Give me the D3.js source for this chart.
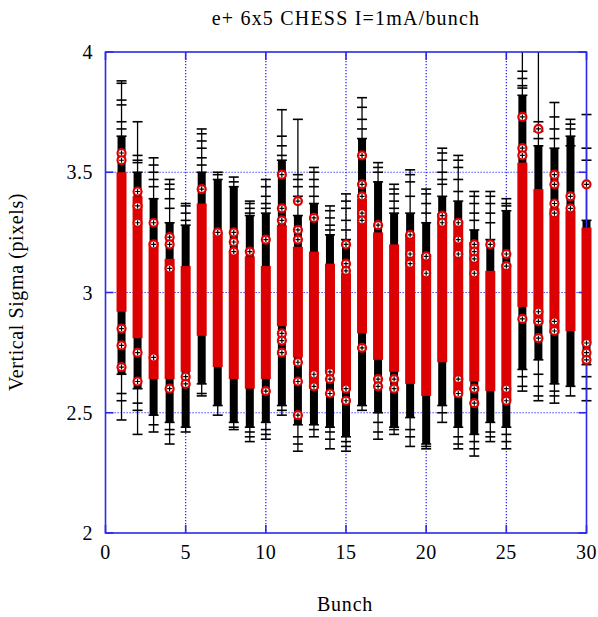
<!DOCTYPE html>
<html>
<head>
<meta charset="utf-8">
<script src="https://cdn.jsdelivr.net/npm/d3@7"></script>
<style>
  body { margin: 0; background: #fff; }
  svg { display: block; }
</style>
</head>
<body>
<svg id="chart" width="598" height="617"></svg>
<script>
// bunch numbers along the x axis
const bunches = [1,2,3,4,5,6,7,8,9,10,11,12,13,14,15,16,17,18,19,20,21,22,23,24,25,26,27,28,29,30];

// extent of the error bars (whisker ends) per bunch
const errHi = [3.88,3.71,3.56,3.47,3.37,3.68,3.50,3.48,3.38,3.47,3.76,3.72,3.52,3.36,3.41,3.81,3.54,3.45,3.51,3.43,3.60,3.57,3.42,3.42,3.39,4.10,4.10,3.79,3.72,3.74];
const errLo = [2.47,2.41,2.42,2.37,2.42,2.57,2.49,2.43,2.38,2.39,2.49,2.34,2.40,2.35,2.34,2.51,2.39,2.41,2.36,2.35,2.46,2.35,2.32,2.38,2.35,2.59,2.55,2.54,2.57,2.55];

// dense band of black measurements
const blackHi = [3.65,3.50,3.39,3.29,3.28,3.50,3.47,3.44,3.32,3.33,3.55,3.32,3.37,3.24,3.22,3.64,3.46,3.33,3.33,3.29,3.40,3.38,3.26,3.22,3.34,3.82,3.61,3.60,3.65,3.30];
const blackLo = [2.66,2.60,2.49,2.46,2.44,2.62,2.53,2.46,2.44,2.46,2.53,2.45,2.45,2.44,2.40,2.53,2.50,2.44,2.48,2.37,2.53,2.44,2.41,2.46,2.44,2.68,2.72,2.62,2.61,2.70];

// dense band of red points
const redHi = [3.50,3.40,3.21,3.14,3.11,3.37,3.25,3.17,3.15,3.11,3.28,3.19,3.17,3.12,3.08,3.39,3.25,3.20,3.24,3.16,3.33,3.30,3.21,3.09,3.12,3.54,3.43,3.35,3.34,3.27];
const redLo = [2.92,2.81,2.64,2.64,2.67,2.82,2.69,2.64,2.60,2.64,2.86,2.73,2.60,2.67,2.60,2.83,2.72,2.67,2.62,2.57,2.71,2.58,2.63,2.59,2.55,2.94,2.87,2.83,2.84,2.79];

// isolated red circles
const redCircles = [
  [3.58,3.55,2.85,2.78,2.69],
  [3.42,3.36,3.29,2.75,2.63],
  [3.29,3.20,2.73],
  [3.23,3.20,3.10,2.60],
  [2.65,2.62],
  [3.43],
  [3.25],
  [3.25,3.21,3.17],
  [3.17],
  [3.22,2.59],
  [3.49,3.35,3.30,2.83,2.80,2.75],
  [3.38,3.26,3.22,2.71,2.63,2.49],
  [3.31,2.66,2.61],
  [2.67,2.64,2.58],
  [3.20,3.12,3.09,2.60,2.55],
  [3.57,3.45,3.40,3.33,3.30,2.77],
  [3.28,2.64,2.61],
  [2.64,2.60],
  [3.24,3.16,3.12],
  [3.15,3.08],
  [3.32,3.29],
  [3.29,3.22,3.16,2.64,2.58],
  [3.20,3.17,3.14,3.08,2.60,2.54],
  [3.20],
  [3.16,3.11,2.60,2.55],
  [3.73,3.60,3.57,2.89],
  [3.68,2.92,2.88,2.81],
  [3.49,3.45,3.37,3.33,2.88,2.84],
  [3.40,3.35],
  [3.45,2.79,2.75,2.72]
];

// sparse error-bar caps outside the dense black band
const tailCaps = [
  [3.87,3.80,3.78,3.71,3.68,2.58,2.55],
  [3.57,3.55,3.54,2.54,2.51],
  [3.53,3.50,3.47,3.44,2.45],
  [3.45,3.43,3.39,3.35,2.43,2.41],
  [3.36,3.33,3.30],
  [3.66,3.63,3.60,3.56,3.53,2.58],
  [3.49],
  [3.46,2.44],
  [3.37,3.35,3.33,2.42,2.40],
  [3.44,3.40,3.37,3.35,2.43,2.41],
  [3.65,3.61,3.57,2.51],
  [3.49,3.47,3.44,3.40,2.40,2.37],
  [3.50,3.47,3.44,3.40,2.43],
  [3.34,3.31,3.28,3.26,2.42,2.39],
  [3.38,3.35,3.30,3.26,2.38,2.36],
  [3.77,3.72,3.68],
  [3.52,3.50,2.46,2.42],
  [3.43,3.41,3.38,3.35,2.43],
  [3.49,3.46,3.40,2.43,2.40],
  [3.41,3.37,3.33,2.36],
  [3.58,3.55,3.50,3.47,3.45,2.50],
  [3.55,3.52,3.47,3.42,2.40,2.37],
  [3.40,3.37,3.33,3.30,2.38,2.35],
  [3.40,3.37,3.33,3.29,2.42,2.40],
  [3.37,3.36,2.41,2.38],
  [3.92,3.89,3.86,3.85,2.65,2.61],
  [3.71,3.67,3.64,2.66,2.61,2.57],
  [3.73,3.68,3.64,2.59,2.57],
  [3.70,3.68,3.61],
  [3.60,3.55,2.65,2.60]
];

const xTicks = [0,5,10,15,20,25,30];
const yTicks = [2,2.5,3,3.5,4];
const yTickLabels = ['2','2.5','3','3.5','4'];

const BLUE = '#2a2ae6';
const GRID = '#1a1aff';
const RED = '#dd0000';
const FONT = '"Liberation Serif", "DejaVu Serif", serif';

const L = 105.5, R = 586.5, T = 52, B = 533;
const x = d3.scaleLinear().domain([0, 30]).range([L, R]);
const y = d3.scaleLinear().domain([2, 4]).range([B, T]);

const svg = d3.select('#chart');

svg.append('defs').append('clipPath').attr('id', 'plotclip')
  .append('rect').attr('x', 0).attr('y', T).attr('width', 598).attr('height', B - T);

// dotted grid
const grid = svg.append('g');
grid.selectAll('line.gx').data(xTicks.slice(1, -1)).enter().append('line')
  .attr('x1', d => x(d)).attr('x2', d => x(d)).attr('y1', T).attr('y2', B)
  .attr('stroke', GRID).attr('stroke-width', 1.2).attr('stroke-dasharray', '1.2,1.8');
grid.selectAll('line.gy').data(yTicks.slice(1, -1)).enter().append('line')
  .attr('y1', d => y(d)).attr('y2', d => y(d)).attr('x1', L).attr('x2', R)
  .attr('stroke', GRID).attr('stroke-width', 1.2).attr('stroke-dasharray', '1.2,1.8');

const rows = bunches.map((b, i) => ({
  b, hi: errHi[i], lo: errLo[i], bHi: blackHi[i], bLo: blackLo[i],
  rHi: redHi[i], rLo: redLo[i], circles: redCircles[i], caps: tailCaps[i]
}));

// black error bars and measurements
const black = svg.append('g').attr('clip-path', 'url(#plotclip)');
black.selectAll('line.whisk').data(rows).enter().append('line')
  .attr('x1', d => x(d.b)).attr('x2', d => x(d.b))
  .attr('y1', d => y(d.hi)).attr('y2', d => y(d.lo))
  .attr('stroke', '#000').attr('stroke-width', 1.3);
black.selectAll('rect.band').data(rows).enter().append('rect')
  .attr('x', d => x(d.b) - 4).attr('width', 8)
  .attr('y', d => y(d.bHi)).attr('height', d => y(d.bLo) - y(d.bHi))
  .attr('fill', '#000');
const capData = rows.flatMap(d => [d.hi, d.lo, d.bHi, d.bLo, ...d.caps].map(v => ({ b: d.b, v })));
black.selectAll('line.cap').data(capData).enter().append('line')
  .attr('x1', d => x(d.b) - 5).attr('x2', d => x(d.b) + 5)
  .attr('y1', d => y(d.v)).attr('y2', d => y(d.v))
  .attr('stroke', '#000').attr('stroke-width', 1.6);

// frame and inward ticks
const frame = svg.append('g');
frame.append('rect').attr('x', L).attr('y', T).attr('width', R - L).attr('height', B - T)
  .attr('fill', 'none').attr('stroke', BLUE).attr('stroke-width', 1.6);
frame.selectAll('line.tx').data(xTicks).enter().append('line')
  .attr('x1', d => x(d)).attr('x2', d => x(d)).attr('y1', B).attr('y2', B - 8)
  .attr('stroke', BLUE).attr('stroke-width', 1.6);
frame.selectAll('line.tx2').data(xTicks).enter().append('line')
  .attr('x1', d => x(d)).attr('x2', d => x(d)).attr('y1', T).attr('y2', T + 8)
  .attr('stroke', BLUE).attr('stroke-width', 1.6);
frame.selectAll('line.ty').data(yTicks).enter().append('line')
  .attr('y1', d => y(d)).attr('y2', d => y(d)).attr('x1', L).attr('x2', L + 8)
  .attr('stroke', BLUE).attr('stroke-width', 1.6);
frame.selectAll('line.ty2').data(yTicks).enter().append('line')
  .attr('y1', d => y(d)).attr('y2', d => y(d)).attr('x1', R).attr('x2', R - 8)
  .attr('stroke', BLUE).attr('stroke-width', 1.6);

// red points
const red = svg.append('g').attr('clip-path', 'url(#plotclip)');
red.selectAll('rect.rband').data(rows).enter().append('rect')
  .attr('x', d => x(d.b) - 5).attr('width', 10)
  .attr('y', d => y(d.rHi)).attr('height', d => y(d.rLo) - y(d.rHi))
  .attr('fill', RED);
const circData = rows.flatMap(d => d.circles.map(v => ({ b: d.b, v })));
const circ = red.selectAll('g.circ').data(circData).enter().append('g')
  .attr('transform', d => `translate(${x(d.b)},${y(d.v)})`);
circ.append('circle').attr('r', 4)
  .attr('fill', '#fff').attr('stroke', RED).attr('stroke-width', 2.2);
circ.append('path').attr('d', 'M-2.5,0H2.5M0,-2.5V2.5')
  .attr('stroke', '#000').attr('stroke-width', 1.2);

// axis labels
svg.selectAll('text.xl').data(xTicks).enter().append('text')
  .attr('x', d => x(d)).attr('y', 559)
  .attr('text-anchor', 'middle')
  .attr('font-family', FONT).attr('font-size', 20).attr('letter-spacing', 0.5)
  .text(d => d);
svg.selectAll('text.yl').data(yTicks).enter().append('text')
  .attr('x', 93).attr('y', d => y(d) + 7)
  .attr('text-anchor', 'end')
  .attr('font-family', FONT).attr('font-size', 20).attr('letter-spacing', 0.5)
  .text((d, i) => yTickLabels[i]);

svg.append('text').attr('x', 346).attr('y', 25).attr('text-anchor', 'middle')
  .attr('font-family', FONT).attr('font-size', 20).attr('letter-spacing', 1.2)
  .text('e+ 6x5 CHESS I=1mA/bunch');
svg.append('text').attr('x', 345).attr('y', 611).attr('text-anchor', 'middle')
  .attr('font-family', FONT).attr('font-size', 20).attr('letter-spacing', 0.8)
  .text('Bunch');
svg.append('text').attr('transform', 'translate(23,292) rotate(-90)').attr('text-anchor', 'middle')
  .attr('font-family', FONT).attr('font-size', 20).attr('letter-spacing', 0.6)
  .text('Vertical Sigma (pixels)');
</script>
</body>
</html>
